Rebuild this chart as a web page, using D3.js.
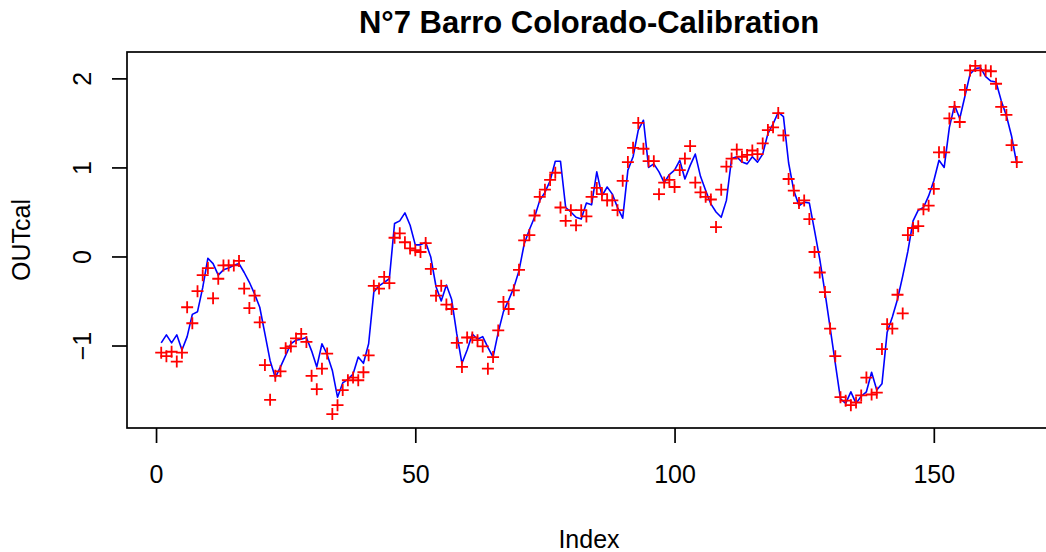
<!DOCTYPE html>
<html>
<head>
<meta charset="UTF-8">
<title>N°7 Barro Colorado-Calibration</title>
<script src="https://cdn.jsdelivr.net/npm/d3@7/dist/d3.min.js"></script>
<style>
    html, body { margin: 0; padding: 0; background: #fff; }
    svg text { font-family: "Liberation Sans", Arial, Helvetica, sans-serif; fill: #000; }
</style>
</head>
<body>
<div id="chart"></div>
<script>
// observed series (red crosses), index 1..166
var observed = [
    -1.08, -1.12, -1.07, -1.18, -1.08, -0.57, -0.75, -0.39, -0.21, -0.13,
    -0.47, -0.25, -0.10, -0.10, -0.10, -0.05, -0.36, -0.58, -0.44, -0.74,
    -1.22, -1.61, -1.34, -1.29, -1.03, -1.01, -0.92, -0.87, -0.96, -1.34,
    -1.49, -1.26, -1.09, -1.77, -1.67, -1.50, -1.39, -1.36, -1.39, -1.30,
    -1.11, -0.33, -0.36, -0.23, -0.30, 0.21, 0.26, 0.16, 0.09, 0.07,
    0.05, 0.15, -0.14, -0.44, -0.33, -0.54, -0.59, -0.97, -1.24, -0.91,
    -0.91, -0.94, -1.01, -1.26, -1.13, -0.83, -0.51, -0.59, -0.38, -0.15,
    0.18, 0.24, 0.46, 0.67, 0.75, 0.86, 0.94, 0.55, 0.40, 0.52,
    0.35, 0.52, 0.45, 0.67, 0.77, 0.70, 0.63, 0.63, 0.52, 0.85,
    1.06, 1.22, 1.50, 1.21, 1.07, 1.07, 0.70, 0.83, 0.86, 0.78,
    0.97, 1.10, 1.24, 0.83, 0.72, 0.67, 0.64, 0.33, 0.75, 1.01,
    1.10, 1.20, 1.12, 1.14, 1.19, 1.15, 1.27, 1.42, 1.45, 1.61,
    1.36, 0.87, 0.74, 0.60, 0.63, 0.42, 0.05, -0.18, -0.40, -0.81,
    -1.12, -1.58, -1.62, -1.67, -1.64, -1.56, -1.36, -1.55, -1.53, -1.04,
    -0.76, -0.81, -0.43, -0.64, 0.24, 0.32, 0.34, 0.53, 0.57, 0.76,
    1.17, 1.17, 1.55, 1.68, 1.51, 1.87, 2.09, 2.14, 2.09, 2.09,
    2.08, 1.94, 1.68, 1.59, 1.25, 1.06
];

// calibrated series (blue line), index 1..166
var predicted = [
    -0.97, -0.88, -0.97, -0.88, -1.05, -0.90, -0.65, -0.62, -0.35, -0.02,
    -0.08, -0.21, -0.15, -0.13, -0.10, -0.08, -0.18, -0.29, -0.42, -0.57,
    -0.87, -1.17, -1.36, -1.24, -1.11, -0.98, -0.94, -0.93, -0.91, -1.06,
    -1.24, -0.98, -1.10, -1.28, -1.58, -1.42, -1.38, -1.32, -1.13, -1.20,
    -0.98, -0.40, -0.33, -0.29, -0.25, 0.37, 0.40, 0.49, 0.35, 0.13,
    0.13, 0.16, -0.01, -0.34, -0.50, -0.32, -0.48, -0.87, -1.20, -1.05,
    -0.87, -0.93, -0.90, -1.02, -1.13, -0.85, -0.62, -0.49, -0.35, -0.16,
    0.14, 0.30, 0.44, 0.63, 0.72, 0.85, 1.07, 1.07, 0.55, 0.50,
    0.44, 0.42, 0.60, 0.58, 0.95, 0.68, 0.78, 0.70, 0.55, 0.43,
    0.97, 1.12, 1.42, 1.53, 1.00, 1.04, 0.95, 0.83, 0.92, 0.97,
    1.08, 0.87, 1.02, 1.15, 0.90, 0.74, 0.59, 0.50, 0.44, 0.63,
    1.10, 1.12, 1.06, 1.04, 1.12, 1.06, 1.15, 1.38, 1.49, 1.62,
    1.57, 1.05, 0.74, 0.57, 0.61, 0.60, 0.29, -0.03, -0.40, -0.80,
    -1.20, -1.60, -1.65, -1.52, -1.65, -1.57, -1.52, -1.30, -1.50, -1.43,
    -0.85, -0.68, -0.48, -0.22, 0.06, 0.40, 0.52, 0.55, 0.68, 0.85,
    1.08, 1.00, 1.45, 1.70, 1.55, 1.80, 2.05, 2.11, 2.12, 2.02,
    1.97, 1.96, 1.75, 1.58, 1.35, 1.04
];

var xTicks = [0, 50, 100, 150];
var yTicks = [-1, 0, 1, 2];
var title = "N°7 Barro Colorado-Calibration";
var xLabel = "Index";
var yLabel = "OUTcal";

function drawChart(){
    let w = 1046, h = 552;
    let mLeft = 127, mRight = 1051, mTop = 52, mBottom = 428;

    let svg = d3.select("#chart").append("svg")
        .attr("width", w)
        .attr("height", h)
        .style("display", "block");

    // R style 4% range extension
    let n = observed.length;
    let xPad = 0.04 * (n - 1);
    let yMin = d3.min(observed), yMax = d3.max(observed);
    let yPad = 0.04 * (yMax - yMin);

    let x = d3.scaleLinear().domain([1 - xPad, n + xPad]).range([mLeft, mRight]);
    let y = d3.scaleLinear().domain([yMin - yPad, yMax + yPad]).range([mBottom, mTop]);

    let pts = observed.map((v, i) => ({i: i + 1, v: v}));
    let pred = predicted.map((v, i) => ({i: i + 1, v: v}));

    // blue line
    let line = d3.line()
        .x(d => x(d.i))
        .y(d => y(d.v));

    svg.append("path")
        .datum(pred)
        .attr("fill", "none")
        .attr("stroke", "#0000FF")
        .attr("stroke-width", 1.6)
        .attr("stroke-linejoin", "round")
        .attr("d", line);

    // red crosses (pch 3)
    let arm = 6;
    svg.append("g").selectAll("path")
        .data(pts)
        .enter().append("path")
        .attr("fill", "none")
        .attr("stroke", "#FF0000")
        .attr("stroke-width", 1.8)
        .attr("d", d => {
            let cx = x(d.i), cy = y(d.v);
            return "M" + (cx - arm) + "," + cy + "H" + (cx + arm) +
                   "M" + cx + "," + (cy - arm) + "V" + (cy + arm);
        });

    // box
    svg.append("rect")
        .attr("x", mLeft)
        .attr("y", mTop)
        .attr("width", mRight - mLeft)
        .attr("height", mBottom - mTop)
        .attr("fill", "none")
        .attr("stroke", "#000")
        .attr("stroke-width", 1.7);

    // x axis
    let xAxis = svg.append("g")
        .attr("transform", "translate(0," + mBottom + ")")
        .call(d3.axisBottom(x).tickValues(xTicks).tickSize(15).tickSizeOuter(0).tickFormat(d3.format("d")));
    xAxis.select(".domain").remove();
    xAxis.selectAll(".tick line").attr("stroke", "#000").attr("stroke-width", 1.7);
    xAxis.selectAll(".tick text")
        .attr("y", 55)
        .attr("dy", 0)
        .style("font-size", "25px");

    // y axis, labels parallel to the axis
    let yAxis = svg.append("g")
        .attr("transform", "translate(" + mLeft + ",0)")
        .call(d3.axisLeft(y).tickValues(yTicks).tickSize(15).tickSizeOuter(0).tickFormat(d3.format("d")));
    yAxis.select(".domain").remove();
    yAxis.selectAll(".tick line").attr("stroke", "#000").attr("stroke-width", 1.7);
    yAxis.selectAll(".tick text")
        .attr("x", 0)
        .attr("y", 0)
        .attr("dy", 0)
        .attr("text-anchor", "middle")
        .attr("transform", "translate(-36,0) rotate(-90)")
        .style("font-size", "25px");

    // title and labels
    svg.append("text")
        .attr("x", (mLeft + mRight) / 2)
        .attr("y", 33)
        .attr("text-anchor", "middle")
        .style("font-size", "31px")
        .style("font-weight", "bold")
        .text(title);

    svg.append("text")
        .attr("x", (mLeft + mRight) / 2)
        .attr("y", 548)
        .attr("text-anchor", "middle")
        .style("font-size", "25px")
        .text(xLabel);

    svg.append("text")
        .attr("transform", "translate(30," + (mTop + mBottom) / 2 + ") rotate(-90)")
        .attr("text-anchor", "middle")
        .style("font-size", "25px")
        .text(yLabel);
}

drawChart();
</script>
</body>
</html>
